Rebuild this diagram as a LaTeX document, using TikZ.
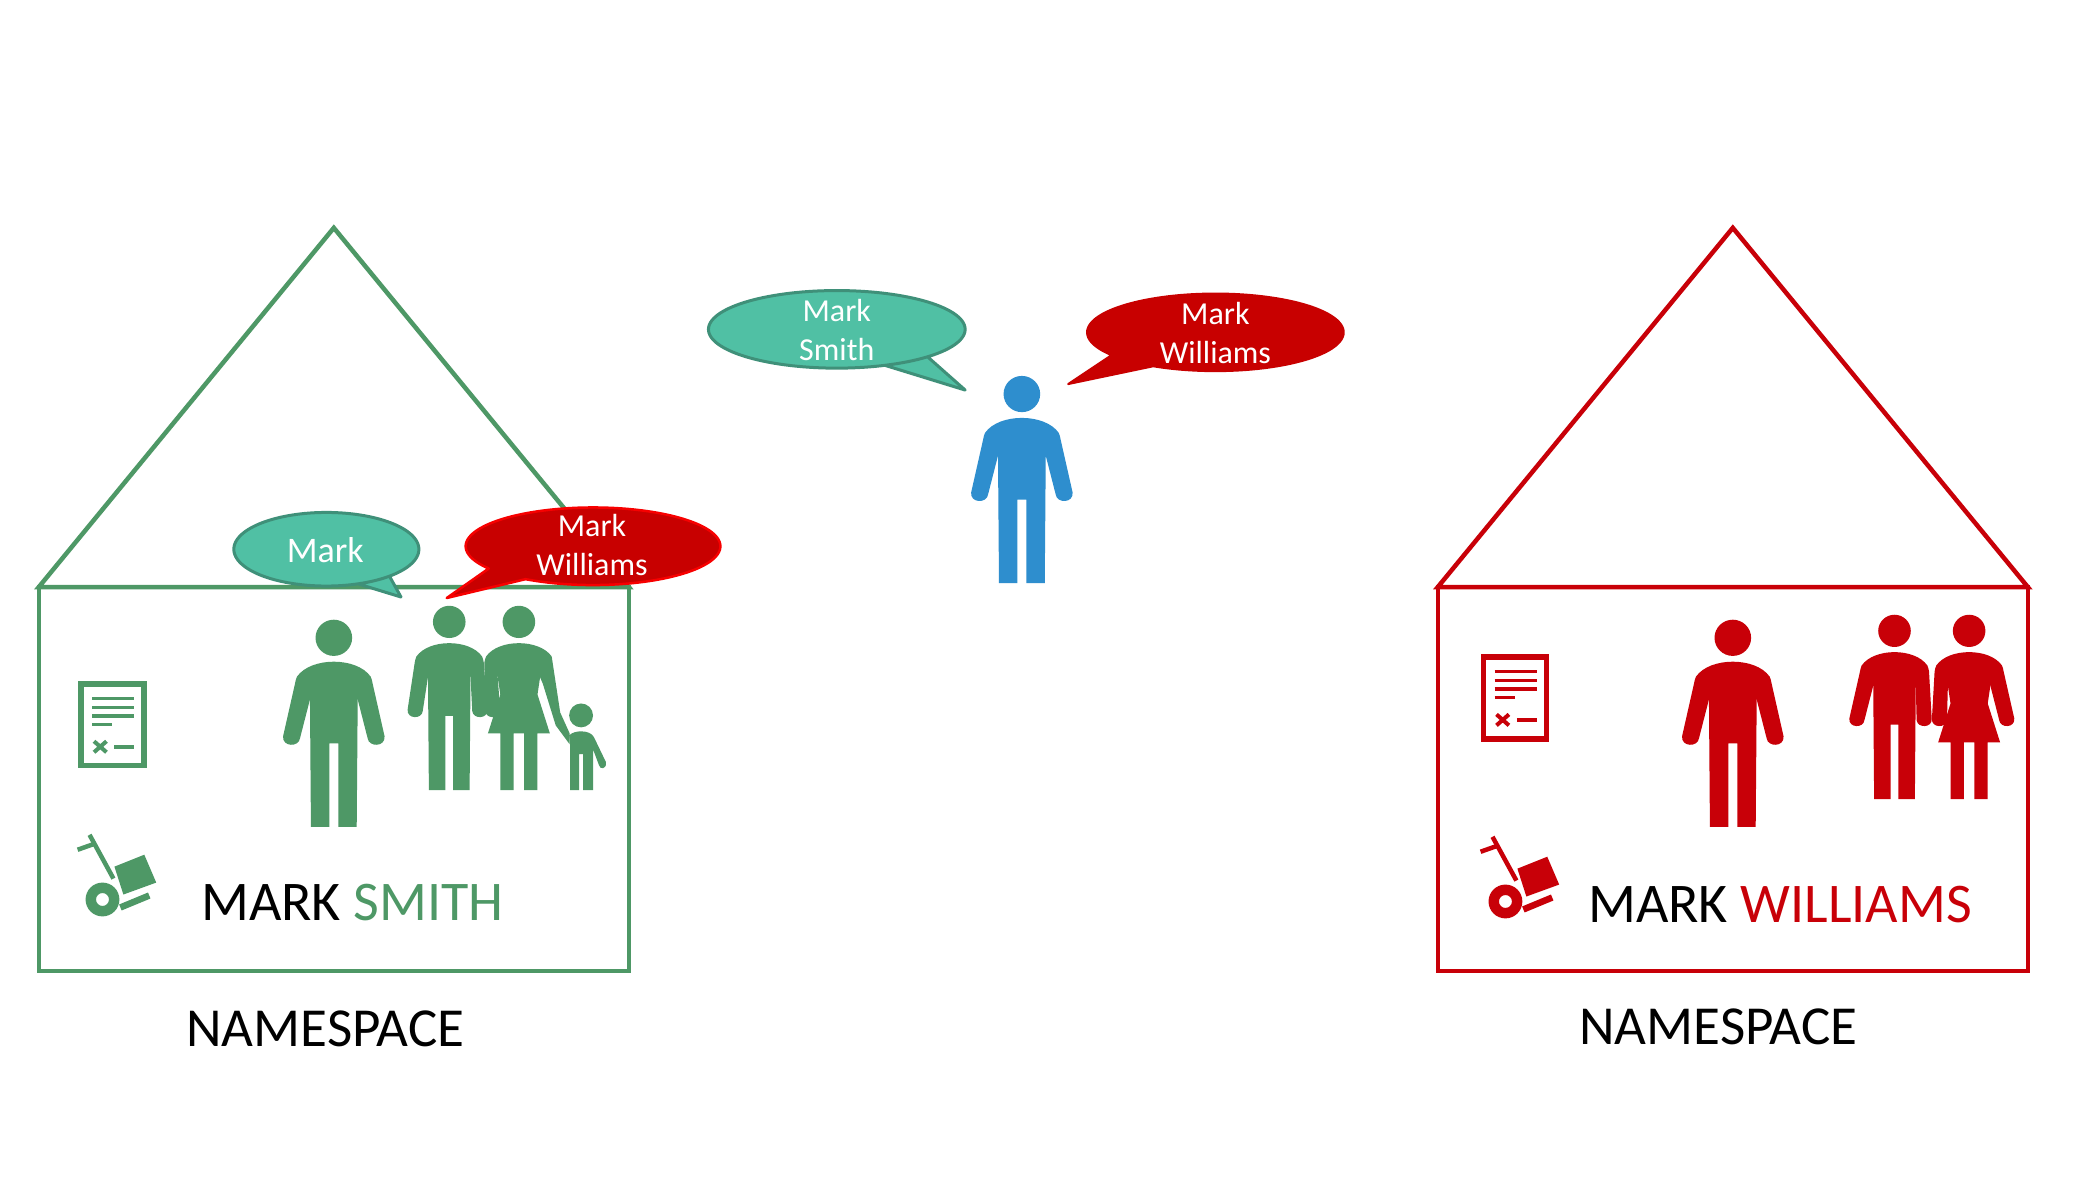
\documentclass[tikz,border=0pt]{standalone}
\usepackage{fontspec}
\setmainfont{Carlito}
\definecolor{hgreen}{HTML}{4E9866}
\definecolor{hred}{HTML}{C80008}
\definecolor{bgreen}{HTML}{50C0A4}
\definecolor{bgreenedge}{HTML}{3F9079}
\definecolor{bred}{HTML}{C80000}
\definecolor{bluem}{HTML}{2E8ECE}
\newcommand\armshape[2]{(37,57) .. controls (38,59) and (38.5,61) .. (39,64) -- (#1,#2) .. controls (#1+1,#2+11) and (#1-16,#2+11) .. (#1-17,#2+2) -- (24,80) -- (20,57) -- cycle}
\newcommand\mantorso{(-4.5,124) -- (-4.5,208) -- (-23,208) -- (-24,80) -- (-37,57) .. controls (-30,47) and (-15,42) .. (0,42) .. controls (15,42) and (30,47) .. (37,57) -- (24,80) -- (23,208) -- (4.5,208) -- (4.5,124) -- cycle}
\newcommand\womantorso{(-6,144) -- (-6,208) -- (-21,208) -- (-21,144) -- (-35,144) -- (-21,100) -- (-24,80) -- (-37,57) .. controls (-30,47) and (-15,42) .. (0,42) .. controls (15,42) and (30,47) .. (37,57) -- (24,80) -- (21,100) -- (35,144) -- (21,144) -- (21,208) -- (6,208) -- (6,144) -- cycle}
% #1 colour, #2 x, #3 y, #4 scale, #5 left hand x, #6 right hand x
\newcommand\manicon[6]{\begin{scope}[shift={(#2,#3)},scale=#4,fill=#1]
  \fill (0,18) ellipse [x radius=18.4,y radius=18.2];
  \fill \mantorso;
  \fill \armshape{#6}{117};
  \begin{scope}[xscale=-1]\fill \armshape{#5}{117};\end{scope}
\end{scope}}
\newcommand\womanicon[6]{\begin{scope}[shift={(#2,#3)},scale=#4,fill=#1]
  \fill (0,18) ellipse [x radius=18.4,y radius=18.2];
  \fill \womantorso;
  \begin{scope}[xscale=-1]\fill \armshape{#5}{117};\end{scope}
  #6
\end{scope}}
% cx cy rx ry startangle endangle tip
\newcommand\bubble[8]{\draw[#8] plot[domain=#5:#6,samples=140] ({#1+#3*cos(\x)},{#2+#4*sin(\x)}) -- (#7) -- cycle;}
\newcommand\docicon[3]{\begin{scope}[shift={(#2,#3)},draw=#1,line cap=butt]
  \draw[line width=5.5] (2.5,2.5) rectangle (65.5,84.5);
  \foreach \yy in {17,26,34.5}{\draw[line width=3.5] (13.5,\yy) -- (56,\yy);}
  \draw[line width=3.5] (13.5,43) -- (34,43);
  \draw[line width=4] (15.5,60) -- (28,71) (15.5,71) -- (28,60);
  \draw[line width=3.5] (36,65.5) -- (56,65.5);
\end{scope}}
\newcommand\carticon[3]{\begin{scope}[shift={(#2,#3)},draw=#1,fill=#1]
  \draw[line width=4.5] (12,0) -- (36,44);
  \draw[line width=4.5] (0,15) -- (17,9);
  \fill[even odd rule] (25,65) circle (17) (25,65) circle (6.5);
  \fill (37,32) -- (67,20) -- (79,48) -- (46,60) -- cycle;
  \draw[line width=6.5] (43,73) -- (72,61);
\end{scope}}
\tikzset{
  housegreen/.style={draw=hgreen,line width=4.5,line join=miter},
  housered/.style={draw=hred,line width=4.5,line join=miter},
  bubgreen/.style={fill=bgreen,draw=bgreenedge,line width=3,line join=round},
  bubred/.style={fill=bred,draw=bred,line width=2,line join=round},
  bubredb/.style={fill=bred,draw=red!85!bred,line width=2.5,line join=round},
  bubtext/.style={text=white,font=\fontsize{32}{38}\selectfont,align=center,inner sep=0},
  bigtext/.style={text=black,font=\fontsize{56}{60}\selectfont,anchor=base west,inner sep=0},
  nstext/.style={bigtext,font=\fontsize{55}{60}\selectfont}
}
\begin{document}
\begin{tikzpicture}[x=0.995pt,y=-0.995pt]
\useasboundingbox[fill=white] (0,0) rectangle (2096.48,1195.98);
% houses
\draw[housegreen] (39,590) -- (335.5,229) -- (632,590) -- cycle;
\draw[housegreen] (39,590) rectangle (632,976);
\draw[housered] (1445,590) -- (1741.5,229) -- (2038,590) -- cycle;
\draw[housered] (1445,590) rectangle (2038,976);
% blue man
\manicon{bluem}{1027}{378}{1}{51}{51}
% green people
\manicon{hgreen}{335.5}{623}{1}{51}{51}
\manicon{hgreen}{451.5}{609}{.89}{47}{43}
\womanicon{hgreen}{521.5}{609}{.89}{38}{}
\fill[hgreen] (554.5,660) -- (563,716) -- (572.5,737) -- (572.5,748) -- (558.5,729) -- (545.5,687) -- (539.5,673) -- cycle;
% child
\begin{scope}[shift={(1,3)}]
\fill[hgreen] (583,716) circle (12);
\fill[hgreen] (581,755) -- (581,791) -- (572,791) -- (572,745) -- (571,736) .. controls (574,733) and (579,732) .. (583,732) .. controls (589,732) and (594,734) .. (596,738) -- (608,763) .. controls (609,770) and (602,771) .. (601,766) -- (595,750) -- (595,791) -- (585,791) -- (585,755) -- cycle;
\end{scope}
% red people
\manicon{hred}{1741.5}{623}{1}{51}{51}
\manicon{hred}{1904}{618}{.89}{51}{42}
\womanicon{hred}{1979}{618}{.89}{42}{\fill \armshape{51}{117};}
% documents
\docicon{hgreen}{79}{685}
\docicon{hred}{1488.5}{658}
% carts
\carticon{hgreen}{78}{839}
\carticon{hred}{1488}{841}
% bubbles
\bubble{841}{331}{129}{39}{45}{428}{970,392}{bubgreen}
\bubble{1221.5}{334}{129}{39}{144}{479}{1073.5,386}{bubred}
\bubble{328}{552}{93}{37}{47}{430}{403,600}{bubgreen}
\bubble{596}{549}{128}{39}{145}{482}{449,601}{bubredb}
% bubble texts
\node[bubtext] (ms) at (841,332) {Mark\\[1pt]Smith};
\node[bubtext] (mw) at (1221.5,335) {Mark\\[1pt]Williams};
\node[bubtext,font=\fontsize{36}{40}\selectfont] (m) at (327,553) {Mark};
\node[bubtext] (mw2) at (595,548) {Mark\\[1pt]Williams};
% big texts
\node[bigtext] (t1) at (202,925) {MARK \textcolor{hgreen}{SMITH}};
\node[bigtext] (t2) at (1596,927) {MARK \textcolor{hred}{WILLIAMS}};
\node[nstext] (n1) at (187,1052) {NAMESPACE};
\node[nstext] (n2) at (1587,1050) {NAMESPACE};
\end{tikzpicture}
\end{document}
